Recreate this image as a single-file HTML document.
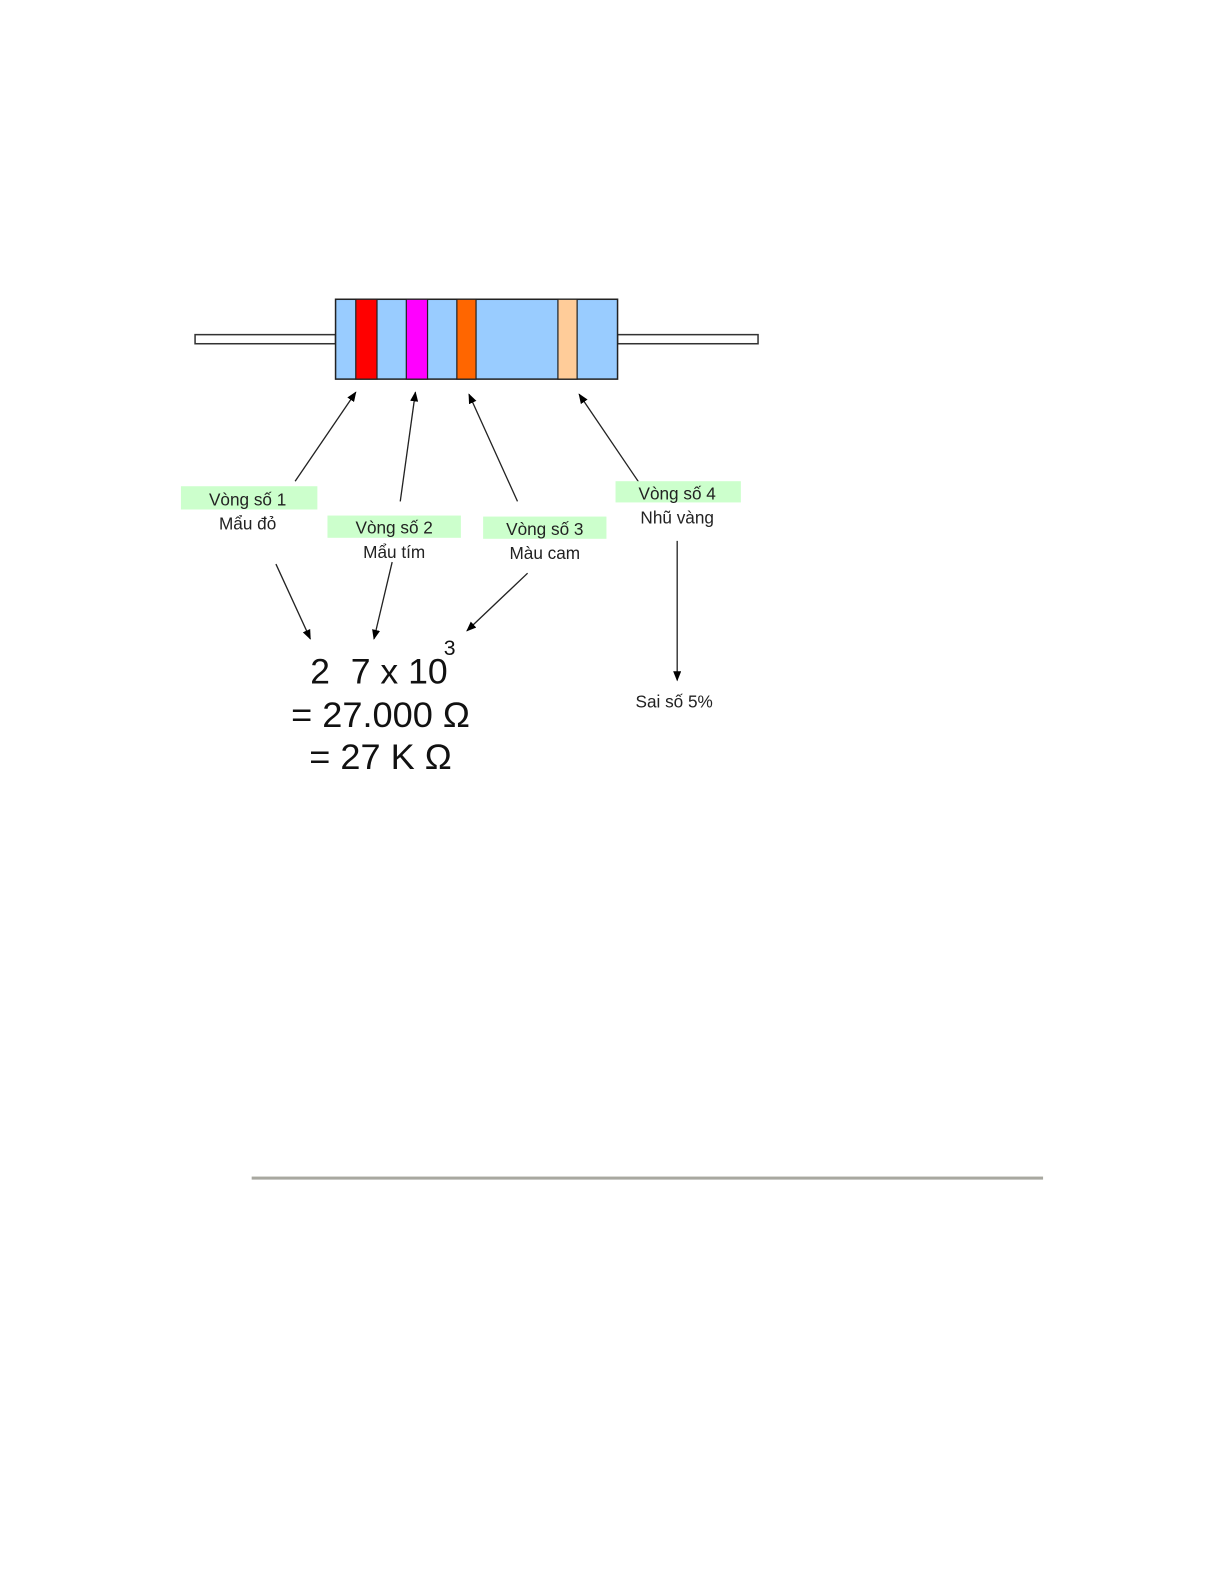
<!DOCTYPE html>
<html><head><meta charset="utf-8"><style>html,body{margin:0;padding:0;background:#fff}svg{display:block}</style></head>
<body>
<svg width="1225" height="1585" viewBox="0 0 1212 1568" xmlns="http://www.w3.org/2000/svg" font-family="Liberation Sans, DejaVu Sans, sans-serif">
<defs><marker id="a" markerWidth="10" markerHeight="8" refX="9" refY="4" orient="auto" markerUnits="userSpaceOnUse"><path d="M0,0 L10,4 L0,8 z" fill="#000"/></marker></defs>
<rect x="193" y="331" width="139" height="9" fill="#fff" stroke="#333" stroke-width="1.5"/>
<rect x="611" y="331" width="139" height="9" fill="#fff" stroke="#333" stroke-width="1.5"/>
<rect x="332" y="296" width="279" height="79" fill="#99ccff" stroke="#222" stroke-width="1.5"/>
<rect x="352" y="296" width="21" height="79" fill="#ff0000" stroke="#222" stroke-width="1.2"/>
<rect x="402" y="296" width="21" height="79" fill="#ff00ff" stroke="#222" stroke-width="1.2"/>
<rect x="452" y="296" width="19" height="79" fill="#ff6600" stroke="#222" stroke-width="1.2"/>
<rect x="552" y="296" width="19" height="79" fill="#ffcc99" stroke="#222" stroke-width="1.2"/>
<g stroke="#222" stroke-width="1.3" marker-end="url(#a)">
<line x1="292" y1="476" x2="352" y2="388"/>
<line x1="396" y1="496" x2="411" y2="388"/>
<line x1="512" y1="496" x2="464" y2="390"/>
<line x1="632" y1="477" x2="573" y2="390"/>
<line x1="273" y1="558" x2="307" y2="632"/>
<line x1="388" y1="556" x2="370" y2="632"/>
<line x1="522" y1="567" x2="462" y2="624"/>
<line x1="670" y1="535" x2="670" y2="673"/>
</g>
<g fill="#ccffcc"><rect x="179" y="481" width="135" height="23"/><rect x="324" y="510" width="132" height="22"/><rect x="478" y="511" width="122" height="22"/><rect x="609" y="476" width="124" height="21"/></g>
<g font-size="17" fill="#222" text-anchor="middle">
<text x="245" y="500">Vòng số 1</text><text x="245" y="524">Mẩu đỏ</text>
<text x="390" y="528">Vòng số 2</text><text x="390" y="552">Mẩu tím</text>
<text x="539" y="529">Vòng số 3</text><text x="539" y="553">Màu cam</text>
<text x="670" y="494">Vòng số 4</text><text x="670" y="518">Nhũ vàng</text>
<text x="667" y="700">Sai số 5%</text>
</g>
<g font-size="35" fill="#111">
<text x="307" y="676">2</text>
<text x="347" y="676" textLength="96" lengthAdjust="spacingAndGlyphs">7 x 10</text>
<text x="439" y="648" font-size="21">3</text>
<text x="288" y="719" textLength="177" lengthAdjust="spacingAndGlyphs">= 27.000 Ω</text>
<text x="306" y="761" textLength="141" lengthAdjust="spacingAndGlyphs">= 27 K Ω</text>
</g>
<rect x="249" y="1164" width="783" height="3" fill="#a8a8a0"/>
</svg>
</body></html>
